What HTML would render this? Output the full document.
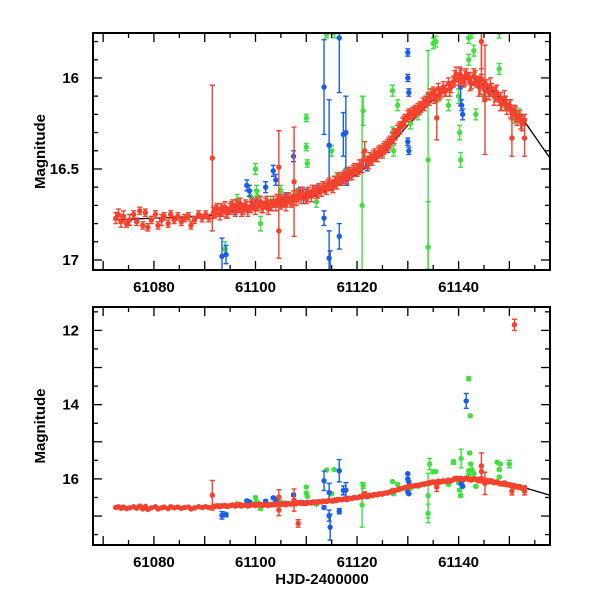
<!DOCTYPE html>
<html><head><meta charset="utf-8"><style>
html,body{margin:0;padding:0;background:#fff;}
svg text{font-family:"Liberation Sans",sans-serif;font-weight:bold;fill:#000;}
</style></head><body>
<svg id="chart" width="600" height="600" viewBox="0 0 600 600" xmlns="http://www.w3.org/2000/svg">
<defs>
<clipPath id="clipTop"><rect x="93" y="33" width="457" height="237"/></clipPath>
<clipPath id="clipBot"><rect x="93" y="307" width="457" height="238"/></clipPath>
</defs>
</svg>
<script>
// ---- data ----
const redX=[61072.5,61073,61073.5,61074,61074.6,61075.2,61076,61076.6,61077.2,61077.8,61078.3,61078.8,61079.5,61080.3,61080.8,61081.5,61082,61082.8,61083.3,61084,61084.7,61085.4,61086,61086.8,61087.3,61088,61088.8,61089.5,61090.2,61090.8,61091.5,61091.7,
61092,61092.5,61093,61093.5,61094,61094.5,61095,61095.5,61096,61096.5,61097,61097.5,61098,61098.5,61099,61099.5,61100,61100.5,61101,61101.5,61102,61102.5,61103,61103.5,61104,61104.5,61105,61105.5,61106,61106.5,61107,61107.5,61108,61108.5,61109,61109.5,61110,61110.5,61111,61111.5,61112,61112.5,61113,61113.5,61114,61114.5,61115,61115.5,61116,61116.5,61117,61117.5,61118,61118.5,61119,61119.5,61120,61120.5,61121,61121.5,61122,61122.5,61123,61123.5,61124,61124.5,61125,61125.5,61126,61126.5,61127,61127.5,61128,61128.5,61129,61129.5,61130,61130.5,61131,61131.5,61132,61132.5,61133,61133.5,61134,61134.5,61135,61135.5,61136,61136.5,61137,61137.5,61138,61138.5,61139,61139.5,61140,61140.5,61141,61141.5,61142,61142.5,61143,61143.5,61144,61144.5,61145,61145.5,61146,61146.5,61147,61147.5,61148,61148.5,61149,61149.5,61150,61150.5,61151,61151.5,61152,61152.5,61153,
61104.6,61104.6,61107.6,61135.7,61145.2,61144.5,61150.5,61153,61151,61144.5,61108.4,
61092.25,61093.25,61094.25,61095.25,61096.25,61097.25,61098.25,61099.25,61100.25,61101.25,61102.25,61103.25,61104.25,61105.25,61106.25,61107.25,61108.25,61109.25,61110.25,61111.25,61112.25,61113.25,61114.25,61115.25,61116.25,61117.25,61118.25,61119.25,61120.25,61121.25,61122.25,61123.25,61124.25,61125.25,61126.25,61127.25,61128.25,61129.25,61130.25,61131.25,61132.25,61133.25,61134.25,61135.25,61136.25,61137.25,61138.25,61139.25,61140.25,61141.25,61142.25,61143.25,61144.25,61145.25,61146.25,61147.25,61148.25,61149.25,61150.25,61151.25,61152.25];
const redY=[16.77,16.75,16.79,16.76,16.80,16.78,16.75,16.79,16.73,16.81,16.74,16.82,16.78,16.75,16.81,16.78,16.76,16.80,16.75,16.78,16.76,16.79,16.77,16.76,16.81,16.78,16.75,16.77,16.75,16.77,16.44,16.74,
16.74,16.72,16.75,16.73,16.71,16.74,16.72,16.70,16.73,16.71,16.69,16.72,16.70,16.73,16.71,16.69,16.72,16.70,16.68,16.71,16.69,16.72,16.70,16.68,16.70,16.67,16.69,16.67,16.70,16.66,16.68,16.65,16.67,16.64,16.66,16.64,16.66,16.63,16.65,16.62,16.63,16.61,16.62,16.60,16.61,16.58,16.59,16.57,16.58,16.55,16.56,16.54,16.55,16.52,16.53,16.50,16.51,16.48,16.49,16.40,16.46,16.44,16.45,16.42,16.43,16.40,16.41,16.38,16.37,16.35,16.33,16.31,16.29,16.27,16.25,16.23,16.21,16.20,16.19,16.18,16.17,16.16,16.14,16.13,16.11,16.09,16.08,16.10,16.06,16.08,16.05,16.07,16.03,16.05,16.02,15.98,16.01,15.99,16.02,15.98,16.00,16.03,15.99,16.02,16.05,16.01,16.06,16.04,16.08,16.06,16.10,16.08,16.12,16.14,16.11,16.16,16.15,16.19,16.18,16.22,16.21,16.25,16.23,
16.49,16.84,16.57,16.22,16.12,15.80,16.33,16.33,11.85,15.65,17.20,
16.73,16.72,16.74,16.71,16.70,16.73,16.71,16.70,16.69,16.71,16.68,16.70,16.67,16.68,16.66,16.67,16.65,16.63,16.65,16.62,16.63,16.60,16.59,16.60,16.56,16.55,16.53,16.51,16.50,16.45,16.47,16.43,16.41,16.39,16.36,16.32,16.28,16.24,16.20,16.19,16.17,16.15,16.12,16.10,16.09,16.07,16.06,16.00,15.98,16.00,16.02,16.00,16.04,16.07,16.05,16.09,16.13,16.14,16.17,16.20,16.24];
const redErr=[0.03,0.03,0.03,0.03,0.02,0.03,0.02,0.02,0.02,0.02,0.02,0.02,0.02,0.02,0.02,0.03,0.02,0.02,0.02,0.02,0.02,0.02,0.02,0.02,0.02,0.02,0.02,0.02,0.02,0.02,0.4,0.03,
0.03,0.03,0.03,0.03,0.03,0.03,0.03,0.03,0.03,0.03,0.03,0.03,0.03,0.03,0.03,0.03,0.03,0.03,0.03,0.03,0.03,0.03,0.03,0.03,0.03,0.03,0.03,0.03,0.03,0.03,0.03,0.03,0.03,0.03,0.03,0.03,0.03,0.03,0.03,0.03,0.03,0.03,0.03,0.03,0.03,0.03,0.03,0.03,0.03,0.03,0.03,0.03,0.03,0.03,0.03,0.03,0.03,0.03,0.03,0.05,0.03,0.03,0.03,0.03,0.03,0.03,0.03,0.03,0.03,0.03,0.03,0.03,0.03,0.03,0.03,0.03,0.03,0.03,0.03,0.03,0.03,0.03,0.03,0.03,0.03,0.03,0.03,0.03,0.03,0.03,0.03,0.03,0.03,0.03,0.03,0.04,0.03,0.04,0.03,0.03,0.03,0.03,0.04,0.03,0.05,0.03,0.04,0.03,0.04,0.03,0.05,0.04,0.03,0.04,0.04,0.04,0.03,0.04,0.03,0.04,0.03,0.04,0.03,
0.2,0.15,0.3,0.12,0.3,0.15,0.1,0.1,0.15,0.35,0.1,
0.03,0.03,0.03,0.03,0.03,0.03,0.03,0.03,0.03,0.03,0.03,0.03,0.03,0.03,0.03,0.03,0.03,0.03,0.03,0.03,0.03,0.03,0.03,0.03,0.03,0.03,0.03,0.03,0.03,0.04,0.03,0.03,0.03,0.03,0.03,0.04,0.03,0.03,0.03,0.03,0.03,0.03,0.03,0.04,0.03,0.03,0.04,0.04,0.04,0.04,0.05,0.04,0.05,0.04,0.05,0.04,0.05,0.04,0.05,0.04,0.04];
const blueX=[61093.4,61094.2,61098.3,61098.8,61103.5,61104,61107.5,61108.8,61109.5,61113.5,61114.5,61114.5,61113.5,61116.5,61117.3,61116.5,61114.7,61117.8,61130,61130,61130.2,61130,61130.2,61140.4,61140.6,61140.8,61141.5,61102,61106,
61096,61100,61105,61110,61112,61118,61122,61126,61134,61144,61146];
const blueY=[16.98,16.97,16.59,16.62,16.51,16.56,16.43,16.63,16.66,16.05,16.37,16.99,16.77,15.78,16.31,16.87,17.30,16.30,15.86,16.00,16.08,16.35,16.40,16.05,16.15,16.20,13.90,16.60,16.66,
16.72,16.70,16.68,16.64,16.62,16.56,16.48,16.38,16.12,16.02,16.07];
const blueErr=[0.1,0.05,0.03,0.03,0.03,0.03,0.03,0.03,0.03,0.26,0.25,0.15,0.04,0.3,0.12,0.07,0.35,0.2,0.02,0.02,0.02,0.02,0.02,0.1,0.03,0.03,0.2,0.03,0.03,
0.03,0.03,0.03,0.03,0.03,0.03,0.03,0.03,0.03,0.03,0.03];
const greenX=[61094,61096.4,61100,61100.2,61100.4,61101,61110,61110,61110.2,61114,61115,61115.5,61121.2,61121,61127,61127,61127.2,61134,61134,61134.3,61135,61135.5,61139,61140,61140.2,61140.4,61140.5,61142,61142,61142.2,61142.4,61142.6,61143,61143.2,61143.4,61148,61148,61148.2,61147.6,61150,61152,61142,61142.3,61128,61123,61099,61105,61112,
61103,61106,61108,61116,61118,61125,61130.5,61132,61136,61138,61145,61149,61151];
const greenY=[16.94,16.67,16.50,16.62,16.65,16.80,16.22,16.38,16.47,15.76,16.40,15.75,16.18,16.70,16.07,16.30,16.40,16.45,16.93,15.60,15.81,15.80,15.55,16.10,16.30,16.45,15.45,15.78,15.90,15.30,15.60,15.75,15.85,16.00,16.20,15.75,15.95,15.60,15.55,15.60,16.20,13.30,14.30,16.15,16.45,16.65,16.62,16.68,
16.68,16.66,16.64,16.55,16.52,16.40,16.25,16.20,16.10,16.15,16.10,16.15,16.22];
const greenErr=[0.04,0.03,0.03,0.03,0.03,0.04,0.02,0.02,0.02,0.02,0.03,0.03,0.08,0.6,0.03,0.03,0.03,0.6,0.25,0.15,0.03,0.03,0.06,0.04,0.04,0.04,0.25,0.03,0.03,0.03,0.03,0.03,0.03,0.03,0.03,0.03,0.03,0.03,0.03,0.1,0.03,0.05,0.02,0.03,0.03,0.03,0.03,0.03,
0.03,0.03,0.03,0.03,0.03,0.03,0.03,0.03,0.03,0.03,0.03,0.03,0.03];
const modelX=[61072,61080,61090,61100,61110,61115,61120,61125,61130,61135,61138,61140,61142,61144,61147,61150,61153,61156,61158];
const modelY=[16.78,16.77,16.76,16.71,16.66,16.61,16.53,16.42,16.26,16.12,16.06,16.01,15.99,16.02,16.08,16.16,16.24,16.36,16.44];
const xTicks=[61080,61100,61120,61140];
const topTicks=[16,16.5,17];
const botTicks=[12,14,16];

// ---- setup ----
const svg=document.getElementById('chart');
const NS='http://www.w3.org/2000/svg';
const X0=93,X1=550,D0=61068,D1=61158;
function sx(d){return X0+(d-D0)*(X1-X0)/(D1-D0);}
const panels=[
 {name:'top',y0:33,y1:270,m0:15.753,m1:17.055,clip:'clipTop',labels:topTicks,minor:0.1,major:0.5},
 {name:'bottom',y0:307,y1:545,m0:11.37,m1:17.78,clip:'clipBot',labels:botTicks,minor:0.5,major:1}
];
function mk(tag,attrs,parent){const e=document.createElementNS(NS,tag);for(const k in attrs)e.setAttribute(k,attrs[k]);(parent||svg).appendChild(e);return e;}
const colors={green:'#3fe03f',blue:'#1a5ee8',red:'#f5412d'};

panels.forEach(p=>{
 const sy=m=>p.y0+(m-p.m0)*(p.y1-p.y0)/(p.m1-p.m0);
 const g=mk('g',{'clip-path':'url(#'+p.clip+')'});
 
 
 let d='';modelX.forEach((x,i)=>{d+=(i?'L':'M')+sx(x).toFixed(1)+','+sy(modelY[i]).toFixed(1);});
 const ml=mk('path',{d:d,fill:'none',stroke:'#000','stroke-width':1.3},g);
 
 
 [['green',greenX,greenY,greenErr],['blue',blueX,blueY,blueErr],['red',redX,redY,redErr]].forEach(s=>{
  const sg=mk('g',{},g);
  
  
  const c=colors[s[0]];
  s[1].forEach((x,i)=>{
   const cx=sx(x),cy=sy(s[2][i]),ya=sy(s[2][i]-s[3][i]),yb=sy(s[2][i]+s[3][i]);
   mk('path',{d:`M${cx},${ya}V${yb}M${cx-2.5},${ya}h5M${cx-2.5},${yb}h5`,stroke:c,'stroke-width':1.4,fill:'none'},sg);
   const pt=mk('circle',{cx:cx,cy:cy,r:2.7,fill:c},sg);
   
   
  });
 });
 const fr=mk('rect',{x:X0,y:p.y0,width:X1-X0,height:p.y1-p.y0,fill:'none',stroke:'#000','stroke-width':2});
 
 
 const tg=mk('g',{stroke:'#000','stroke-width':1.3});
 
 
 for(let d=61070;d<=61155;d+=5){const x=sx(d),L=(d%10===0)?9:5;
  mk('line',{x1:x,x2:x,y1:p.y1,y2:p.y1-L},tg);mk('line',{x1:x,x2:x,y1:p.y0,y2:p.y0+L},tg);}
 for(let k=Math.ceil(p.m0/p.minor);k*p.minor<=p.m1;k++){const m=k*p.minor,y=sy(m);
  const isMaj=Math.abs(m/p.major-Math.round(m/p.major))<1e-6,L=isMaj?9:5;
  mk('line',{x1:X0,x2:X0+L,y1:y,y2:y},tg);mk('line',{x1:X1,x2:X1-L,y1:y,y2:y},tg);}
 xTicks.forEach(t=>{const tx=mk('text',{x:sx(t),y:p.y1+22,'text-anchor':'middle','font-size':15});tx.textContent=t;
  
  });
 p.labels.forEach(t=>{const tx=mk('text',{x:X0-14,y:sy(t)+5,'text-anchor':'end','font-size':15});tx.textContent=t;
  
  });
 const yl=mk('text',{x:0,y:0,transform:`translate(45,${(p.y0+p.y1)/2}) rotate(-90)`,'text-anchor':'middle','font-size':15});
 yl.textContent='Magnitude';
 
 
});
const xl=mk('text',{x:322,y:584,'text-anchor':'middle','font-size':15});
xl.textContent='HJD-2400000';


</script>
</body></html>
